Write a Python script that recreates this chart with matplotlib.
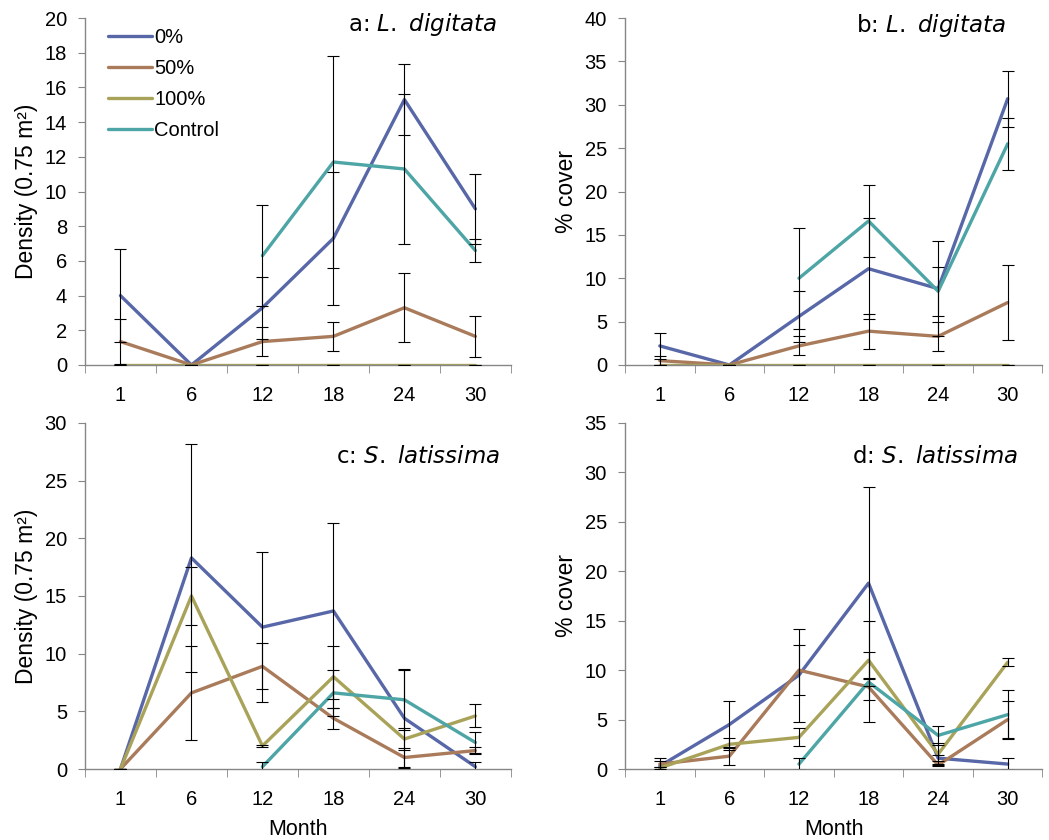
import numpy as np
import matplotlib
matplotlib.use('Agg')
import matplotlib.pyplot as plt

plt.rcParams['font.family'] = ['Liberation Sans', 'DejaVu Sans']

months = ['1', '6', '12', '18', '24', '30']
series = ['0%', '50%', '100%', 'Control']
colors = ['#5867a8', '#a97b5b', '#a9a35a', '#4da5a5']
nan = np.nan

# a: L. digitata density
a_vals = [[4.0, 0, 3.3, 7.3, 15.3, 9.0],
          [1.35, 0, 1.35, 1.65, 3.3, 1.65],
          [0, 0, 0, 0, 0, 0],
          [nan, nan, 6.3, 11.7, 11.3, 6.6]]
a_err = [[2.7, 0, 1.8, 3.85, 2.05, 2.0],
         [1.3, 0, 0.85, 0.85, 2.0, 1.2],
         [0, 0, 0, 0, 0, 0],
         [nan, nan, 2.9, 6.1, 4.35, 0.65]]

# b: L. digitata cover
b_vals = [[2.2, 0, 5.6, 11.1, 8.8, 30.7],
          [0.5, 0, 2.2, 3.9, 3.3, 7.2],
          [0, 0, 0, 0, 0, 0],
          [nan, nan, 10.0, 16.6, 8.5, 25.5]]
b_err = [[1.5, 0, 2.9, 5.8, 5.5, 3.25],
         [0.5, 0, 1.1, 2.0, 1.7, 4.3],
         [0, 0, 0, 0, 0, 0],
         [nan, nan, 5.8, 4.2, 2.8, 3.0]]

# c: S. latissima density
c_vals = [[0, 18.3, 12.3, 13.7, 4.4, 0.2],
          [0, 6.6, 8.9, 4.4, 1.0, 1.6],
          [0, 15.0, 2.0, 8.0, 2.6, 4.6],
          [nan, nan, 0.2, 6.6, 6.0, 2.3]]
c_err = [[0, 9.9, 6.5, 7.6, 4.3, 0.45],
         [0, 4.05, 2.0, 0.9, 0.8, 0.3],
         [0, 2.5, 0.1, 2.7, 0.95, 1.0],
         [nan, nan, 0.45, 2.0, 2.6, 0.9]]

# d: S. latissima cover
d_vals = [[0.3, 4.5, 9.5, 18.8, 1.1, 0.5],
          [0.5, 1.3, 10.0, 8.3, 0.4, 5.0],
          [0.1, 2.5, 3.2, 11.0, 1.5, 10.8],
          [nan, nan, 0.5, 8.8, 3.4, 5.5]]
d_err = [[0.8, 2.4, 4.7, 9.7, 0.3, 0.6],
         [0.3, 0.9, 2.5, 3.5, 0.1, 1.9],
         [0.1, 0.6, 0.9, 4.0, 1.1, 0.4],
         [nan, nan, 0.6, 0.4, 1.0, 2.5]]

panels = [
    ('a: ', 'L. digitata', a_vals, a_err, 20, 2, 'Density (0.75 m²)',
     [0.081, 0.5655, 0.406, 0.413], (0.967, 0.962)),
    ('b: ', 'L. digitata', b_vals, b_err, 40, 5, '% cover',
     [0.5958, 0.5655, 0.398, 0.413], (0.911, 0.96)),
    ('c: ', 'S. latissima', c_vals, c_err, 30, 5, 'Density (0.75 m²)',
     [0.081, 0.0845, 0.406, 0.412], (0.974, 0.884)),
    ('d: ', 'S. latissima', d_vals, d_err, 35, 5, '% cover',
     [0.5958, 0.0845, 0.398, 0.412], (0.942, 0.884)),
]

fig = plt.figure(figsize=(10.49, 8.4), dpi=100)
x = np.arange(len(months))

for k, (letter, species, vals, errs, ymax, ystep, ylab, rect, tpos) in enumerate(panels):
    ax = fig.add_axes(rect)
    for i in range(len(series)):
        ax.plot(x, vals[i], color=colors[i], lw=2.4, label=series[i],
                solid_capstyle='round', zorder=2)
    for i in range(len(series)):
        ax.errorbar(x, vals[i], yerr=errs[i], fmt='none', ecolor='black',
                    elinewidth=0.8, capsize=4.5, capthick=0.8, zorder=3)

    ax.set_xlim(-0.5, len(months) - 0.5)
    ax.set_ylim(0, ymax)
    ax.set_yticks(np.arange(0, ymax + 0.1, ystep))
    ax.set_xticks(x)
    ax.set_xticklabels(months)
    ax.set_xticks(np.arange(-0.5, len(months)), minor=True)
    ax.tick_params(axis='x', which='major', length=0, pad=15, labelsize=14.5)
    ax.tick_params(axis='x', which='minor', length=6, color='#868686', direction='out')
    ax.tick_params(axis='y', length=5, color='#868686', labelsize=14.5, pad=8)
    for s in ['top', 'right']:
        ax.spines[s].set_visible(False)
    for s in ['left', 'bottom']:
        ax.spines[s].set_color('#868686')
        ax.spines[s].set_linewidth(1.0)
    ax.set_ylabel(ylab, fontsize=16.5, labelpad=5)
    if k >= 2:
        ax.set_xlabel('Month', fontsize=15.5, labelpad=7)

    ax.text(tpos[0], tpos[1], letter + '$\\it{' + species.replace(' ', '\\ ') + '}$',
            transform=ax.transAxes, ha='right', va='baseline', fontsize=16.5,
            family='DejaVu Sans')

    if k == 0:
        ax.legend(loc='upper left', bbox_to_anchor=(0.03, 1.0), frameon=False,
                  fontsize=14.5, handlelength=2.2, handletextpad=0.1,
                  labelspacing=0.6, borderaxespad=0.1)

fig.savefig('out.png', dpi=100)
